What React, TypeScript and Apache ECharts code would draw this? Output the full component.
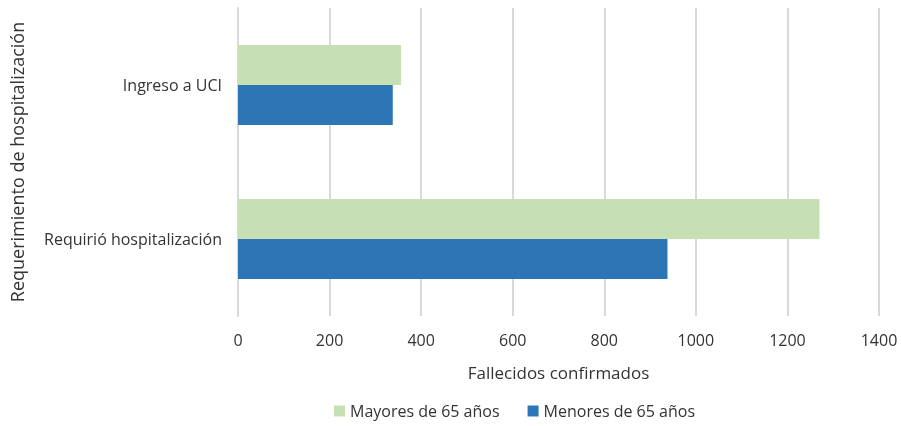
import React, { useEffect, useRef } from "react";
import * as echarts from "echarts";

const categories = ["Requirió hospitalización", "Ingreso a UCI"];
const mayores = [1270, 356];
const menores = [938, 338];
const seriesNames = ["Mayores de 65 años", "Menores de 65 años"];

export default function App() {
  const ref = useRef<HTMLDivElement>(null);
  useEffect(() => {
    const chart = echarts.init(ref.current!, null, { renderer: "svg" });
    const font = "'Open Sans', 'Noto Sans', sans-serif";
    const txt = "#333333";
    chart.setOption({
      animation: false,
      textStyle: { fontFamily: font },
      grid: { left: 235, right: 22, top: 8, bottom: 110, containLabel: false },
      legend: {
        top: 398,
        left: 329,
        itemWidth: 11,
        itemHeight: 11,
        itemGap: 28,
        icon: "rect",
        textStyle: { fontSize: 16, color: txt, fontFamily: font },
        data: seriesNames,
      },
      xAxis: {
        type: "value",
        min: 0,
        max: 1400,
        interval: 200,
        name: "Fallecidos confirmados",
        nameLocation: "middle",
        nameGap: 48,
        nameTextStyle: { fontSize: 17, color: txt, fontFamily: font },
        axisLabel: {
          fontSize: 16,
          color: txt,
          margin: 16,
          fontFamily: font,
          formatter: (v: number) => String(v),
        },
        axisLine: { show: false },
        axisTick: { show: false },
        splitLine: { lineStyle: { color: "#D9D9D9", width: 2 } },
      },
      yAxis: {
        type: "category",
        data: categories,
        name: "Requerimiento de hospitalización",
        nameLocation: "middle",
        nameGap: 212,
        nameRotate: 90,
        nameTextStyle: { fontSize: 18, color: txt, fontFamily: font },
        axisLabel: { fontSize: 16, color: txt, margin: 16, fontFamily: font },
        axisLine: { lineStyle: { color: "#D9D9D9", width: 2 } },
        axisTick: { show: false },
      },
      series: [
        {
          name: seriesNames[0],
          type: "bar",
          data: mayores,
          barWidth: 40,
          barGap: "0%",
          itemStyle: { color: "#C6E0B4" },
        },
        {
          name: seriesNames[1],
          type: "bar",
          data: menores,
          barWidth: 40,
          barGap: "0%",
          itemStyle: { color: "#2E75B6" },
        },
      ],
    });
    return () => chart.dispose();
  }, []);
  return (
    <div
      ref={ref}
      style={{ position: "fixed", left: 0, top: 0, width: 901, height: 426 }}
    />
  );
}
